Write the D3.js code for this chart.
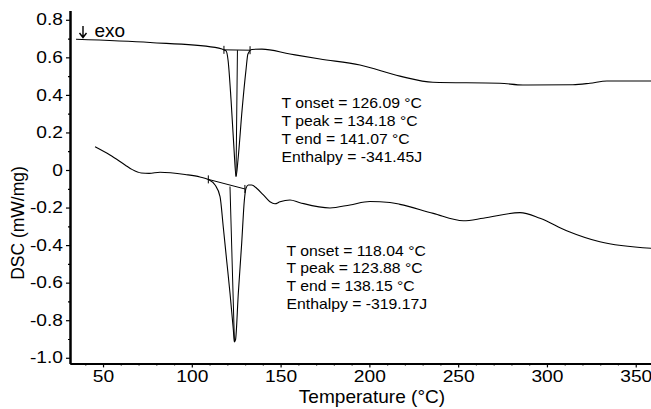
<!DOCTYPE html>
<html>
<head>
<meta charset="utf-8">
<script src="https://cdn.jsdelivr.net/npm/d3@7"></script>
<style>
  html, body { margin: 0; padding: 0; background: #fff; }
  svg { display: block; }
  text { font-family: "Liberation Sans", Arial, Helvetica, sans-serif; fill: #000; }
</style>
</head>
<body>
<svg id="chart" width="651" height="409"></svg>
<script>
// DSC thermograms: heat flow (mW/mg) against temperature (°C)
const upperTemp = [34.8, 76.5, 113.1, 117.0, 119.3, 120.4, 122.1, 123.8, 124.9, 126.0, 128.3, 130.5, 131.6, 133.9, 139.5, 155.3, 172.2, 194.7, 217.2, 235.8, 273.5, 286.5, 314.6, 324.2, 333.8, 358.6];
const upperDsc  = [0.696, 0.679, 0.653, 0.644, 0.634, 0.586, 0.373, 0.106, -0.035, 0.053, 0.319, 0.532, 0.618, 0.642, 0.644, 0.618, 0.591, 0.559, 0.500, 0.467, 0.462, 0.453, 0.454, 0.462, 0.474, 0.474];

const lowerTemp = [45.5, 53.9, 62.4, 66.5, 71.5, 76.0, 82.1, 96.2, 104.6, 109.3, 113.1, 115.9, 117.7, 119.6, 121.5, 123.4, 124.0, 124.6, 126.2, 128.1, 129.6, 130.5, 131.8, 133.7, 136.5, 140.3, 144.0, 146.8, 149.7, 155.3, 160.9, 177.8, 189.1, 200.3, 211.6, 217.2, 236.0, 252.9, 264.1, 284.8, 296.1, 311.1, 329.8, 358.6];
const lowerDsc  = [0.124, 0.080, 0.027, 0.002, -0.016, -0.018, -0.012, -0.024, -0.037, -0.051, -0.080, -0.142, -0.302, -0.479, -0.655, -0.852, -0.916, -0.905, -0.655, -0.389, -0.160, -0.097, -0.080, -0.080, -0.097, -0.133, -0.169, -0.180, -0.169, -0.160, -0.174, -0.202, -0.186, -0.168, -0.173, -0.183, -0.231, -0.270, -0.257, -0.227, -0.257, -0.323, -0.382, -0.417];

// integration baselines (onset -> end) and peak drop lines, as [temperature, dsc]
const upperBaseline = [[118.1, 0.640], [132.8, 0.638]];
const upperPeakLine = [[125.7, 0.638], [124.9, -0.035]];
const lowerBaseline = [[109.3, -0.050], [129.9, -0.101]];
const lowerPeakLine = [[121.5, -0.088], [124.0, -0.916]];

const upperNotes = ["T onset = 126.09 °C", "T peak = 134.18 °C", "T end = 141.07 °C", "Enthalpy = -341.45J"];
const lowerNotes = ["T onset = 118.04 °C", "T peak = 123.88 °C", "T end = 138.15 °C", "Enthalpy = -319.17J"];

const xTicks = [50, 100, 150, 200, 250, 300, 350];
const yTicks = [0.8, 0.6, 0.4, 0.2, 0, -0.2, -0.4, -0.6, -0.8, -1.0];
const yTickLabels = ["0.8", "0.6", "0.4", "0.2", "0", "-0.2", "-0.4", "-0.6", "-0.8", "-1.0"];

const svg = d3.select("#chart");
const x = d3.scaleLinear().domain([31.4, 358.6]).range([70, 651]);
const y = d3.scaleLinear().domain([-1.03, 0.85]).range([363.4, 10.4]);

// the lettering is a slightly wide grotesque: widen Liberation Sans horizontally
const tickStretch = 1.2;

// axes
const xAxis = d3.axisBottom(x).tickValues(xTicks).tickFormat(d3.format("d")).tickSize(4).tickSizeOuter(0);
const xMinor = d3.axisBottom(x).tickValues(d3.range(40, 360, 10).filter(v => v % 50 !== 0)).tickFormat("").tickSize(2).tickSizeOuter(0);
const yAxis = d3.axisLeft(y).tickValues(yTicks).tickFormat((d, i) => yTickLabels[i]).tickSize(4).tickSizeOuter(0);
const yMinor = d3.axisLeft(y).tickValues(d3.range(-0.9, 0.85, 0.2)).tickFormat("").tickSize(2).tickSizeOuter(0);

const gx = svg.append("g").attr("transform", `translate(0,${y(-1.03)})`);
gx.call(xMinor);
gx.append("g").call(xAxis);
const gy = svg.append("g").attr("transform", `translate(${x(31.4)},0)`);
gy.call(yMinor);
gy.append("g").call(yAxis);

svg.selectAll(".domain").attr("stroke", "#000").attr("stroke-width", 2);
svg.selectAll(".tick line").attr("stroke", "#000").attr("stroke-width", 1.2);
gx.selectAll(".tick text").attr("font-size", 16).attr("dy", "0.74em")
  .attr("transform", `scale(${tickStretch},1)`)
  .style("font-family", "Liberation Sans, Arial, sans-serif");
gy.selectAll(".tick text").attr("font-size", 16).attr("x", -7 / tickStretch)
  .attr("transform", `scale(${tickStretch},1)`)
  .style("font-family", "Liberation Sans, Arial, sans-serif");

// axis titles
svg.append("text").attr("transform", "translate(372,403) scale(1.06,1)").attr("text-anchor", "middle")
  .attr("font-size", 18).text("Temperature (°C)");
svg.append("text").attr("transform", "translate(24,223) rotate(-90)").attr("text-anchor", "middle")
  .attr("font-size", 17.5).text("DSC (mW/mg)");

// curves
const line = d3.line().x(d => x(d[0])).y(d => y(d[1])).curve(d3.curveMonotoneX);
const straight = d3.line().x(d => x(d[0])).y(d => y(d[1]));

[[upperTemp, upperDsc], [lowerTemp, lowerDsc]].forEach(([t, v]) => {
  svg.append("path").datum(t.map((d, i) => [d, v[i]]))
    .attr("d", line).attr("fill", "none").attr("stroke", "#000").attr("stroke-width", 1.1);
});

[upperBaseline, upperPeakLine, lowerBaseline, lowerPeakLine].forEach(seg => {
  svg.append("path").datum(seg).attr("d", straight)
    .attr("fill", "none").attr("stroke", "#000").attr("stroke-width", 1);
});

// onset / end markers on the baselines
[upperBaseline, lowerBaseline].forEach(seg => {
  seg.forEach(p => {
    svg.append("line").attr("x1", x(p[0])).attr("x2", x(p[0]))
      .attr("y1", y(p[1]) - 4).attr("y2", y(p[1]) + 4)
      .attr("stroke", "#000").attr("stroke-width", 1);
  });
});

// exo direction marker
svg.append("path").attr("d", "M83,26 L83,37.5 M79.5,33 L83,37.5 L86.5,33")
  .attr("fill", "none").attr("stroke", "#000").attr("stroke-width", 1.4);
svg.append("text").attr("x", 94.5).attr("y", 37).attr("font-size", 19).text("exo");

// peak annotations
function notes(lines, x0, y0) {
  svg.append("g").selectAll("text").data(lines).join("text")
    .attr("transform", (d, i) => `translate(${x0},${y0 + i * 17.8}) scale(1.11,1)`)
    .attr("font-size", 14.2).text(d => d);
}
notes(upperNotes, 281.5, 108.3);
notes(lowerNotes, 286.5, 255.5);
</script>
</body>
</html>
